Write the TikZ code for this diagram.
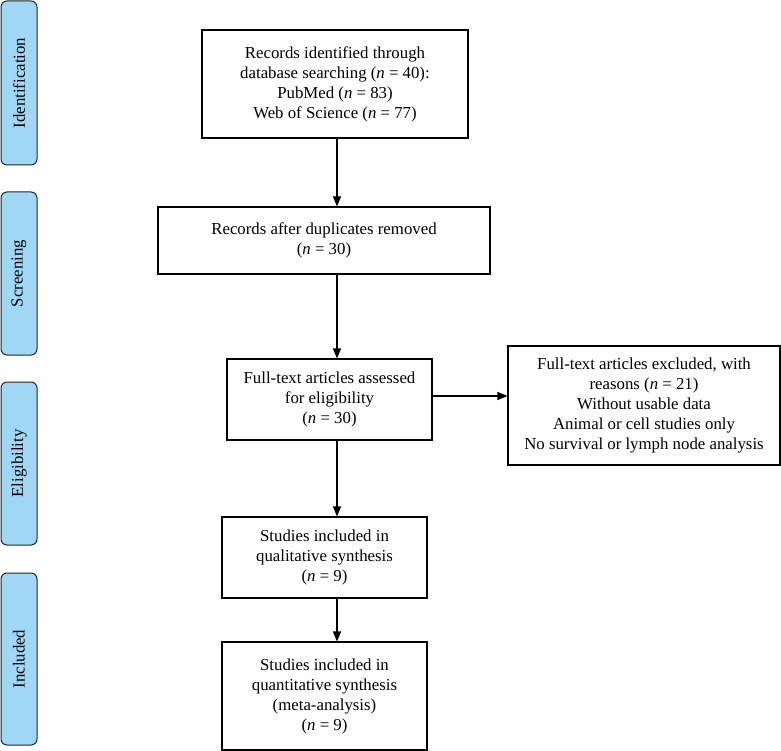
\documentclass[tikz,border=0pt]{standalone}
\usepackage{fontspec}
\setmainfont{Liberation Serif}
\usetikzlibrary{arrows.meta}
\definecolor{sidefill}{RGB}{160,215,245}
\begin{document}
\begin{tikzpicture}[x=1pt,y=-1pt,
  box/.style={draw=black,line width=1.1pt,fill=white,align=center,inner sep=0pt,font=\fontsize{16.8}{20}\selectfont},
  side/.style={draw=black!85,line width=1pt,fill=sidefill,rounded corners=6pt,inner sep=0pt,rotate=90,minimum height=36pt,font=\fontsize{16.8}{20}\selectfont},
  arr/.style={line width=1.1pt,-{Triangle[length=10pt,width=8pt]}}]
\useasboundingbox (0,0) rectangle (781,751);
% side labels
\node[side,minimum width=164pt] (s1) at (19,83) {Identification};
\node[side,minimum width=163pt] (s2) at (19,273.5) {Screening};
\node[side,minimum width=163pt] (s3) at (19,463.5) {Eligibility};
\node[side,minimum width=172pt] (s4) at (19,659) {Included};
% boxes
\node[box,minimum width=266pt,minimum height=108pt] (b1) at (335,84)
  {Records identified through\\database searching (\textit{n} = 40):\\PubMed (\textit{n} = 83)\\Web of Science (\textit{n} = 77)};
\node[box,minimum width=332pt,minimum height=67pt] (b2) at (324,240.5)
  {Records after duplicates removed\\(\textit{n} = 30)};
\node[box,minimum width=205pt,minimum height=81pt] (b3) at (329.5,399.5)
  {Full-text articles assessed\\for eligibility\\(\textit{n} = 30)};
\node[box,minimum width=272pt,minimum height=119pt] (b4) at (644,405.5)
  {Full-text articles excluded, with\\reasons (\textit{n} = 21)\\Without usable data\\Animal or cell studies only\\No survival or lymph node analysis};
\node[box,minimum width=205pt,minimum height=81pt] (b5) at (324.5,557.5)
  {Studies included in\\qualitative synthesis\\(\textit{n} = 9)};
\node[box,minimum width=205pt,minimum height=108pt] (b6) at (324.5,696)
  {Studies included in\\quantitative synthesis\\(meta-analysis)\\(\textit{n} = 9)};
% connectors
\coordinate (ax) at (337,0);
\coordinate (ay) at (0,396);
\draw[arr] (ax |- b1.south) -- (ax |- b2.north);
\draw[arr] (ax |- b2.south) -- (ax |- b3.north);
\draw[arr] (b3.east |- ay) -- (b4.west |- ay);
\draw[arr] (ax |- b3.south) -- (ax |- b5.north);
\draw[arr] (ax |- b5.south) -- (ax |- b6.north);
\end{tikzpicture}
\end{document}
